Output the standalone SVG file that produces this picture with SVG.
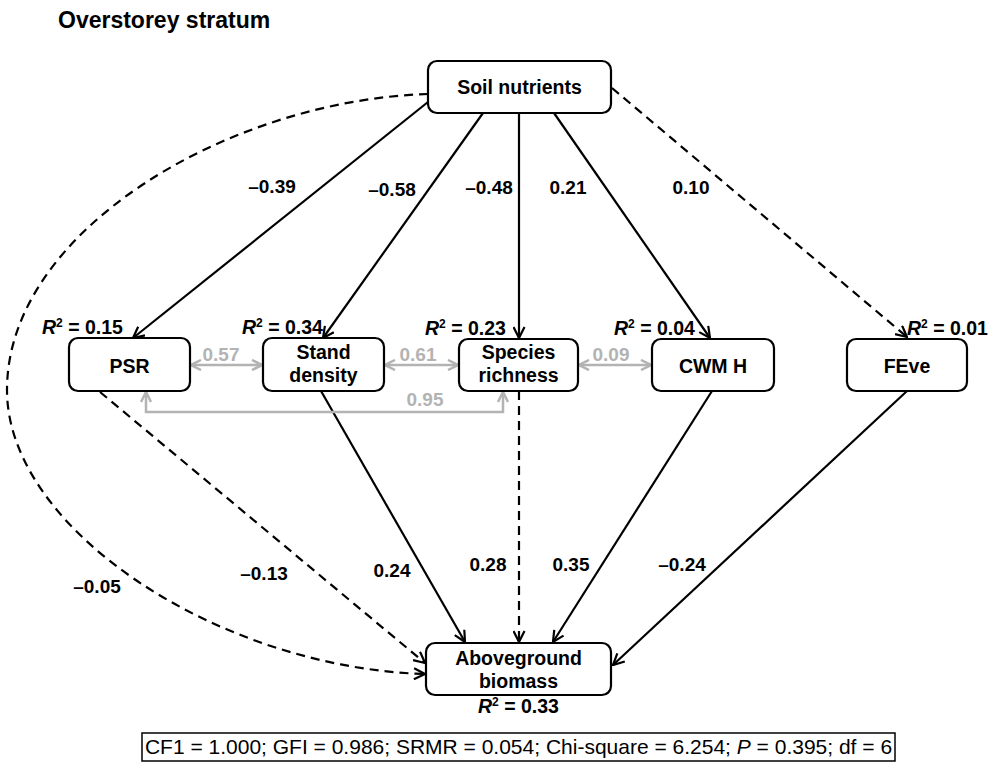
<svg xmlns="http://www.w3.org/2000/svg" width="988" height="765" viewBox="0 0 988 765">
  <style>
    text { font-family: "Liberation Sans", Arial, sans-serif; fill: #000; }
    .title { font-size: 23px; font-weight: bold; }
    .node rect { fill: #fff; stroke: #000; stroke-width: 2.2; }
    .node text { font-size: 19.5px; font-weight: bold; text-anchor: middle; }
    .coef { font-size: 19px; font-weight: bold; text-anchor: middle; }
    .coef.gray { fill: #b3b3b3; }
    .r2 { font-size: 19px; font-weight: bold; }
    .r2 .it { font-style: italic; }
    .path { fill: none; stroke: #000; stroke-width: 2.2; }
    .dash { stroke-dasharray: 9 6; }
    .cor { fill: none; stroke: #b3b3b3; stroke-width: 2.5; }
    .stats { font-size: 21px; text-anchor: middle; }
  </style>
  <defs>
    <marker id="ah" viewBox="0 0 13 13" refX="12" refY="6.5" markerWidth="13" markerHeight="13" orient="auto" markerUnits="userSpaceOnUse">
      <path d="M1,1 L12,6.5 L1,12" fill="none" stroke="#000" stroke-width="2.2"/>
    </marker>
    <marker id="ahg" viewBox="0 0 12 12" refX="11" refY="6" markerWidth="12" markerHeight="12" orient="auto-start-reverse" markerUnits="userSpaceOnUse">
      <path d="M1,1 L11,6 L1,11" fill="none" stroke="#b3b3b3" stroke-width="2.5"/>
    </marker>
  </defs>

  <text class="title" x="58" y="28">Overstorey stratum</text>

  <!-- paths and correlations -->
  <g id="connectors">
    <!-- from soil nutrients -->
    <path class="path" d="M428,102 L133,338" marker-end="url(#ah)"/>
    <path class="path" d="M483,113 L323,338" marker-end="url(#ah)"/>
    <path class="path" d="M519,113 L519,338" marker-end="url(#ah)"/>
    <path class="path" d="M554,113 L710,338" marker-end="url(#ah)"/>
    <path class="path dash" d="M612,88 L907,337" marker-end="url(#ah)"/>
    <path class="path dash" d="M428,94 C230,100 7,230 7,390 C7,530 220,668 425,674" marker-end="url(#ah)"/>
    <!-- into aboveground biomass -->
    <path class="path dash" d="M100,392 L425,663" marker-end="url(#ah)"/>
    <path class="path" d="M321,391 L465,642" marker-end="url(#ah)"/>
    <path class="path dash" d="M519,391 L519,642" marker-end="url(#ah)"/>
    <path class="path" d="M712,391 L553,642" marker-end="url(#ah)"/>
    <path class="path" d="M907,391 L613,665" marker-end="url(#ah)"/>
    <!-- correlations -->
    <path class="cor" d="M191,365 L262,365" marker-start="url(#ahg)" marker-end="url(#ahg)"/>
    <path class="cor" d="M385,365 L458,365" marker-start="url(#ahg)" marker-end="url(#ahg)"/>
    <path class="cor" d="M579,365 L651,365" marker-start="url(#ahg)" marker-end="url(#ahg)"/>
    <path class="cor" d="M146,392 L146,412 L503,412 L503,392" marker-start="url(#ahg)" marker-end="url(#ahg)"/>

    <!-- coefficients -->
    <text class="coef" x="272" y="193">–0.39</text>
    <text class="coef" x="392" y="196">–0.58</text>
    <text class="coef" x="489" y="194">–0.48</text>
    <text class="coef" x="568" y="194">0.21</text>
    <text class="coef" x="691" y="194">0.10</text>
    <text class="coef gray" x="221" y="361">0.57</text>
    <text class="coef gray" x="418" y="361">0.61</text>
    <text class="coef gray" x="611" y="361">0.09</text>
    <text class="coef gray" x="425" y="406">0.95</text>
    <text class="coef" x="97" y="593">–0.05</text>
    <text class="coef" x="264" y="580">–0.13</text>
    <text class="coef" x="392" y="577">0.24</text>
    <text class="coef" x="488" y="571">0.28</text>
    <text class="coef" x="571" y="571">0.35</text>
    <text class="coef" x="682" y="571">–0.24</text>
  </g>

  <g id="soil" class="node">
    <rect x="428" y="61" width="183" height="52" rx="9"/>
    <text x="519.5" y="94">Soil nutrients</text>
  </g>
  <g id="psr" class="node">
    <rect x="69" y="338" width="121" height="53" rx="9"/>
    <text x="129.5" y="373">PSR</text>
    <text class="r2" x="42" y="334" style="text-anchor:start"><tspan class="it">R</tspan><tspan font-size="12" dy="-7">2</tspan><tspan dy="7"> = 0.15</tspan></text>
  </g>
  <g id="density" class="node">
    <rect x="263" y="338" width="121" height="53" rx="9"/>
    <text x="323.5" y="359">Stand</text>
    <text x="323.5" y="382">density</text>
    <text class="r2" x="242" y="334" style="text-anchor:start"><tspan class="it">R</tspan><tspan font-size="12" dy="-7">2</tspan><tspan dy="7"> = 0.34</tspan></text>
  </g>
  <g id="richness" class="node">
    <rect x="459" y="339" width="119" height="52" rx="9"/>
    <text x="518.5" y="359">Species</text>
    <text x="518.5" y="382">richness</text>
    <text class="r2" x="425" y="335" style="text-anchor:start"><tspan class="it">R</tspan><tspan font-size="12" dy="-7">2</tspan><tspan dy="7"> = 0.23</tspan></text>
  </g>
  <g id="cwmh" class="node">
    <rect x="652" y="339" width="122" height="52" rx="9"/>
    <text x="713" y="373">CWM H</text>
    <text class="r2" x="614" y="335" style="text-anchor:start"><tspan class="it">R</tspan><tspan font-size="12" dy="-7">2</tspan><tspan dy="7"> = 0.04</tspan></text>
  </g>
  <g id="feve" class="node">
    <rect x="847" y="339" width="120" height="52" rx="9"/>
    <text x="907" y="373">FEve</text>
    <text class="r2" x="907" y="335" style="text-anchor:start"><tspan class="it">R</tspan><tspan font-size="12" dy="-7">2</tspan><tspan dy="7"> = 0.01</tspan></text>
  </g>
  <g id="biomass" class="node">
    <rect x="426" y="643" width="185" height="52" rx="9"/>
    <text x="518.5" y="665">Aboveground</text>
    <text x="518.5" y="688">biomass</text>
    <text class="r2" x="478" y="713" style="text-anchor:start"><tspan class="it">R</tspan><tspan font-size="12" dy="-7">2</tspan><tspan dy="7"> = 0.33</tspan></text>
  </g>

  <g id="fit">
    <rect x="142" y="733" width="753" height="28" fill="#fff" stroke="#000" stroke-width="1.5"/>
    <text class="stats" x="518.5" y="754">CF1 = 1.000; GFI = 0.986; SRMR = 0.054; Chi-square = 6.254; <tspan font-style="italic">P</tspan> = 0.395; df = 6</text>
  </g>
</svg>
